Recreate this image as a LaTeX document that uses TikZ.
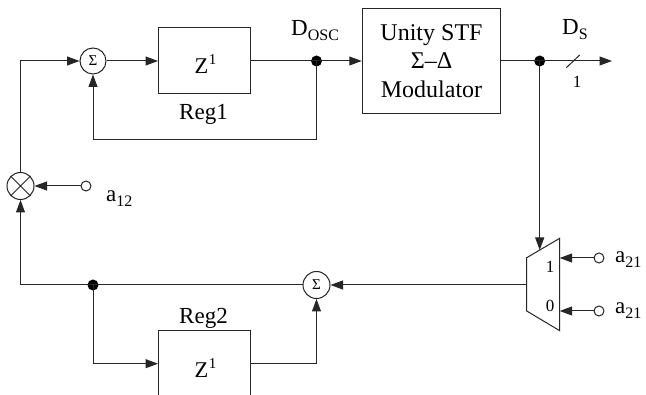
\documentclass[tikz,border=0pt]{standalone}
\usepackage{fontspec}
\setmainfont{Liberation Serif}
\usetikzlibrary{arrows.meta}
\newcommand{\zone}{{\fontsize{22.5}{26}\selectfont Z}\kern0.5pt\raisebox{9pt}{\fontsize{15}{16}\selectfont 1}}
\newcommand{\subt}[1]{\raisebox{-5pt}{\fontsize{16}{16}\selectfont #1}}
\begin{document}
\begin{tikzpicture}[x=1pt,y=-1pt,
  wire/.style={line width=1pt,draw=black!85},
  arr/.style={wire,-{Triangle[length=12.5pt,width=9pt]}},
  blockbox/.style={draw=black!85,line width=1pt,inner sep=0pt,align=center,font=\fontsize{24}{30}\selectfont},
  summer/.style={circle,draw=black!85,line width=1pt,minimum size=26pt,inner sep=0pt,font=\fontsize{15}{15}\selectfont},
  dotnode/.style={circle,fill=black,minimum size=11pt,inner sep=0pt},
  port/.style={circle,draw=black!85,fill=white,line width=1pt,minimum size=10pt,inner sep=0pt},
  lab/.style={inner sep=0pt,font=\fontsize{23}{26}\selectfont},
  small/.style={inner sep=0pt,font=\fontsize{17}{18}\selectfont}]
\useasboundingbox (0,0) rectangle (646,395);
\clip (0,0) rectangle (646,395);
\fill[white] (0,0) rectangle (646,395);
% nodes
\node[summer] (s1) at (93,61) {Σ};
\node[blockbox,minimum width=92pt,minimum height=66pt] (r1) at (204.5,61) {};
\node[lab,anchor=base west] (z1) at (194.5,74) {\zone};
\node[lab,anchor=base west] (l1) at (179,120) {Reg1};
\node[dotnode] (j1) at (316.5,61) {};
\node[blockbox,minimum width=138.5pt,minimum height=105pt] (m) at (431.5,61) {Unity STF\\[-1.5pt]Σ–Δ\\[-1.5pt]Modulator};
\node[dotnode] (j2) at (539.7,61) {};
\coordinate (out) at (612,61);
\node[summer,minimum size=27pt] (x) at (20.5,186) {};
\draw[wire] (x.45) -- (x.225) (x.135) -- (x.315);
\node[port] (p12) at (86,186) {};
\node[lab,anchor=base west] (a12) at (106,202) {a\subt{12}};
\node[dotnode] (j3) at (93,285) {};
\node[summer,minimum size=27pt] (s2) at (316.5,285) {Σ};
\node[blockbox,minimum width=92pt,minimum height=66pt] (r2) at (204.5,363.7) {};
\node[lab,anchor=base west] (z2) at (194.5,378) {\zone};
\node[lab,anchor=base west] (l2) at (179,324) {Reg2};
\coordinate (c1) at (20.5,61);
\coordinate (c2) at (93,140);
\coordinate (c3) at (316.5,140);
\coordinate (c4) at (20.5,285);
\coordinate (c5) at (93,363.7);
\coordinate (c6) at (316.5,363.7);
% mux
\coordinate (mlt) at (526.7,257.7);
\coordinate (mrt) at (559.7,238.3);
\coordinate (mrb) at (559.7,330.7);
\coordinate (mlb) at (526.7,311);
\draw[wire,line join=miter] (mlt) -- (mrt) -- (mrb) -- (mlb) -- cycle;
\coordinate (mtop) at (539.7,250);
\coordinate (mout) at (526.7,285);
\coordinate (min1) at (559.7,258);
\coordinate (min0) at (559.7,311);
\node[port] (p1) at (599,258) {};
\node[port] (p0) at (599,311) {};
\node[small] (t1) at (550,267) {1};
\node[small] (t0) at (550,306) {0};
\node[lab,anchor=base west] (a1) at (615,263) {a\subt{21}};
\node[lab,anchor=base west] (a0) at (615,314) {a\subt{21}};
% labels
\node[lab,anchor=base west] (dosc) at (291,36) {D\subt{OSC}};
\node[lab,anchor=base west] (ds) at (562,35) {D\subt{S}};
\node[small] (one) at (577,81.5) {1};
\coordinate (sa) at (566.3,67.7);
\coordinate (sb) at (579.7,55);
\draw[wire] (sa) -- (sb);
% connectors
\draw[arr] (x.north) -- (c1) -- (s1.west);
\draw[arr] (s1.east) -- (r1.west);
\draw[wire] (r1.east) -- (j1.center);
\draw[arr] (j1.center) -- (m.west);
\draw[arr] (j1.center) -- (c3) -- (c2) -- (s1.south);
\draw[wire] (m.east) -- (j2.center);
\draw[arr] (j2.center) -- (out);
\draw[arr] (j2.center) -- (mtop);
\draw[arr] (p12.west) -- (x.east);
\draw[arr] (j3.center) -- (c4) -- (x.south);
\draw[wire] (j3.center) -- (s2.west);
\draw[arr] (j3.center) -- (c5) -- (r2.west);
\draw[arr] (r2.east) -- (c6) -- (s2.south);
\draw[arr] (mout) -- (s2.east);
\draw[arr] (p1.west) -- (min1);
\draw[arr] (p0.west) -- (min0);
\end{tikzpicture}
\end{document}
